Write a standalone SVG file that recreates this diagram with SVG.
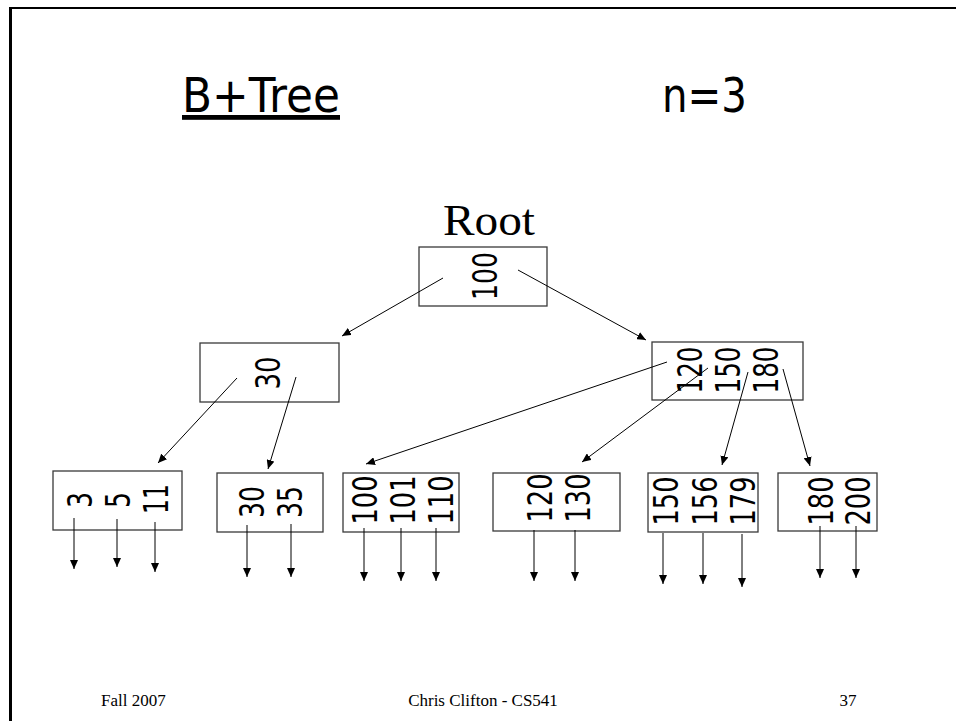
<svg xmlns="http://www.w3.org/2000/svg" width="956" height="721" viewBox="0 0 956 721">
  <style>
    .frame { stroke: #000; fill: none; }
    .box { fill: #fff; stroke: #3a3a3a; stroke-width: 1.3; }
    .key { font-family: "DejaVu Sans", Verdana, sans-serif; font-size: 34px; fill: #000; text-anchor: middle; }
    .title { font-family: "DejaVu Sans", Verdana, sans-serif; font-size: 48px; fill: #000; }
    .serif { font-family: "Liberation Serif", "Times New Roman", serif; fill: #000; }
    .edge { stroke: #000; stroke-width: 1; fill: none; marker-end: url(#tip); }
  </style>
  <defs>
    <marker id="tip" markerWidth="9" markerHeight="8" refX="9" refY="4" orient="auto" markerUnits="userSpaceOnUse">
      <path d="M0,0 L9,4 L0,8 Z" fill="#000"/>
    </marker>
  </defs>

  <rect width="956" height="721" fill="#fff"/>

  <!-- slide frame -->
  <g id="frame">
    <line class="frame" x1="10.5" y1="8" x2="10.5" y2="721" stroke-width="3"/>
    <line class="frame" x1="9" y1="8" x2="956" y2="8" stroke-width="2"/>
  </g>

  <!-- heading -->
  <g id="heading">
    <text class="title" x="182" y="112" textLength="158" lengthAdjust="spacingAndGlyphs" text-decoration="underline">B+Tree</text>
    <text class="title" x="662" y="112" textLength="85" lengthAdjust="spacingAndGlyphs">n=3</text>
  </g>

  <text id="root-label" class="serif" x="443" y="235" font-size="44" textLength="92" lengthAdjust="spacingAndGlyphs">Root</text>

  <!-- root node -->
  <g id="node-root">
    <rect class="box" x="419" y="247" width="128" height="59"/>
    <text class="key" transform="translate(497,276) rotate(-90)" textLength="48" lengthAdjust="spacingAndGlyphs">100</text>
  </g>

  <!-- interior nodes -->
  <g id="node-30">
    <rect class="box" x="200" y="343" width="139" height="59"/>
    <text class="key" transform="translate(280,373) rotate(-90)" textLength="33" lengthAdjust="spacingAndGlyphs">30</text>
  </g>
  <g id="node-120-150-180">
    <rect class="box" x="652" y="342" width="151" height="58"/>
    <text class="key" transform="translate(702,370) rotate(-90)" textLength="47" lengthAdjust="spacingAndGlyphs">120</text>
    <text class="key" transform="translate(740,370) rotate(-90)" textLength="47" lengthAdjust="spacingAndGlyphs">150</text>
    <text class="key" transform="translate(778,370) rotate(-90)" textLength="47" lengthAdjust="spacingAndGlyphs">180</text>
  </g>

  <!-- leaf nodes -->
  <g id="leaf-3-5-11">
    <rect class="box" x="53" y="471" width="129" height="59"/>
    <text class="key" transform="translate(92,500) rotate(-90)" textLength="16" lengthAdjust="spacingAndGlyphs">3</text>
    <text class="key" transform="translate(130,500) rotate(-90)" textLength="16" lengthAdjust="spacingAndGlyphs">5</text>
    <text class="key" transform="translate(168,499) rotate(-90)" textLength="30" lengthAdjust="spacingAndGlyphs">11</text>
  </g>
  <g id="leaf-30-35">
    <rect class="box" x="217" y="473" width="106" height="59"/>
    <text class="key" transform="translate(264,502) rotate(-90)" textLength="32" lengthAdjust="spacingAndGlyphs">30</text>
    <text class="key" transform="translate(302,502) rotate(-90)" textLength="32" lengthAdjust="spacingAndGlyphs">35</text>
  </g>
  <g id="leaf-100-101-110">
    <rect class="box" x="343" y="473" width="116" height="59"/>
    <text class="key" transform="translate(377,500) rotate(-90)" textLength="49" lengthAdjust="spacingAndGlyphs">100</text>
    <text class="key" transform="translate(415,500) rotate(-90)" textLength="49" lengthAdjust="spacingAndGlyphs">101</text>
    <text class="key" transform="translate(453,500) rotate(-90)" textLength="49" lengthAdjust="spacingAndGlyphs">110</text>
  </g>
  <g id="leaf-120-130">
    <rect class="box" x="493" y="473" width="127" height="58"/>
    <text class="key" transform="translate(552,498) rotate(-90)" textLength="49" lengthAdjust="spacingAndGlyphs">120</text>
    <text class="key" transform="translate(590,498) rotate(-90)" textLength="49" lengthAdjust="spacingAndGlyphs">130</text>
  </g>
  <g id="leaf-150-156-179">
    <rect class="box" x="648" y="473" width="110" height="59"/>
    <text class="key" transform="translate(678,501) rotate(-90)" textLength="49" lengthAdjust="spacingAndGlyphs">150</text>
    <text class="key" transform="translate(717,501) rotate(-90)" textLength="49" lengthAdjust="spacingAndGlyphs">156</text>
    <text class="key" transform="translate(755,501) rotate(-90)" textLength="49" lengthAdjust="spacingAndGlyphs">179</text>
  </g>
  <g id="leaf-180-200">
    <rect class="box" x="778" y="473" width="99" height="58"/>
    <text class="key" transform="translate(833,501) rotate(-90)" textLength="49" lengthAdjust="spacingAndGlyphs">180</text>
    <text class="key" transform="translate(870,501) rotate(-90)" textLength="49" lengthAdjust="spacingAndGlyphs">200</text>
  </g>

  <!-- connectors, drawn over the boxes so they start inside them -->
  <g id="connectors">
    <line class="edge" x1="443" y1="278" x2="342" y2="336"/>
    <line class="edge" x1="518" y1="270" x2="646" y2="340"/>

    <line class="edge" x1="237" y1="378" x2="158" y2="463"/>
    <line class="edge" x1="296" y1="377" x2="268" y2="469"/>

    <line class="edge" x1="667" y1="362" x2="366" y2="464"/>
    <line class="edge" x1="708" y1="368" x2="582" y2="462"/>
    <line class="edge" x1="748" y1="372" x2="722" y2="465"/>
    <line class="edge" x1="783" y1="369" x2="810" y2="466"/>

    <line class="edge" x1="74" y1="518" x2="74" y2="569"/>
    <line class="edge" x1="117" y1="519" x2="117" y2="567"/>
    <line class="edge" x1="155" y1="522" x2="155" y2="572"/>

    <line class="edge" x1="247" y1="525" x2="247" y2="577"/>
    <line class="edge" x1="291" y1="524" x2="291" y2="577"/>

    <line class="edge" x1="364" y1="528" x2="364" y2="581"/>
    <line class="edge" x1="401" y1="528" x2="401" y2="581"/>
    <line class="edge" x1="436" y1="528" x2="436" y2="581"/>

    <line class="edge" x1="534" y1="530" x2="534" y2="581"/>
    <line class="edge" x1="575" y1="530" x2="575" y2="581"/>

    <line class="edge" x1="663" y1="533" x2="663" y2="584"/>
    <line class="edge" x1="703" y1="533" x2="703" y2="584"/>
    <line class="edge" x1="742" y1="534" x2="742" y2="587"/>

    <line class="edge" x1="820" y1="526" x2="820" y2="578"/>
    <line class="edge" x1="856" y1="526" x2="856" y2="578"/>
  </g>

  <!-- footer -->
  <g id="footer" class="serif" font-size="17">
    <text x="101" y="706">Fall 2007</text>
    <text x="483" y="706" text-anchor="middle">Chris Clifton - CS541</text>
    <text x="848" y="706" text-anchor="middle">37</text>
  </g>
</svg>
